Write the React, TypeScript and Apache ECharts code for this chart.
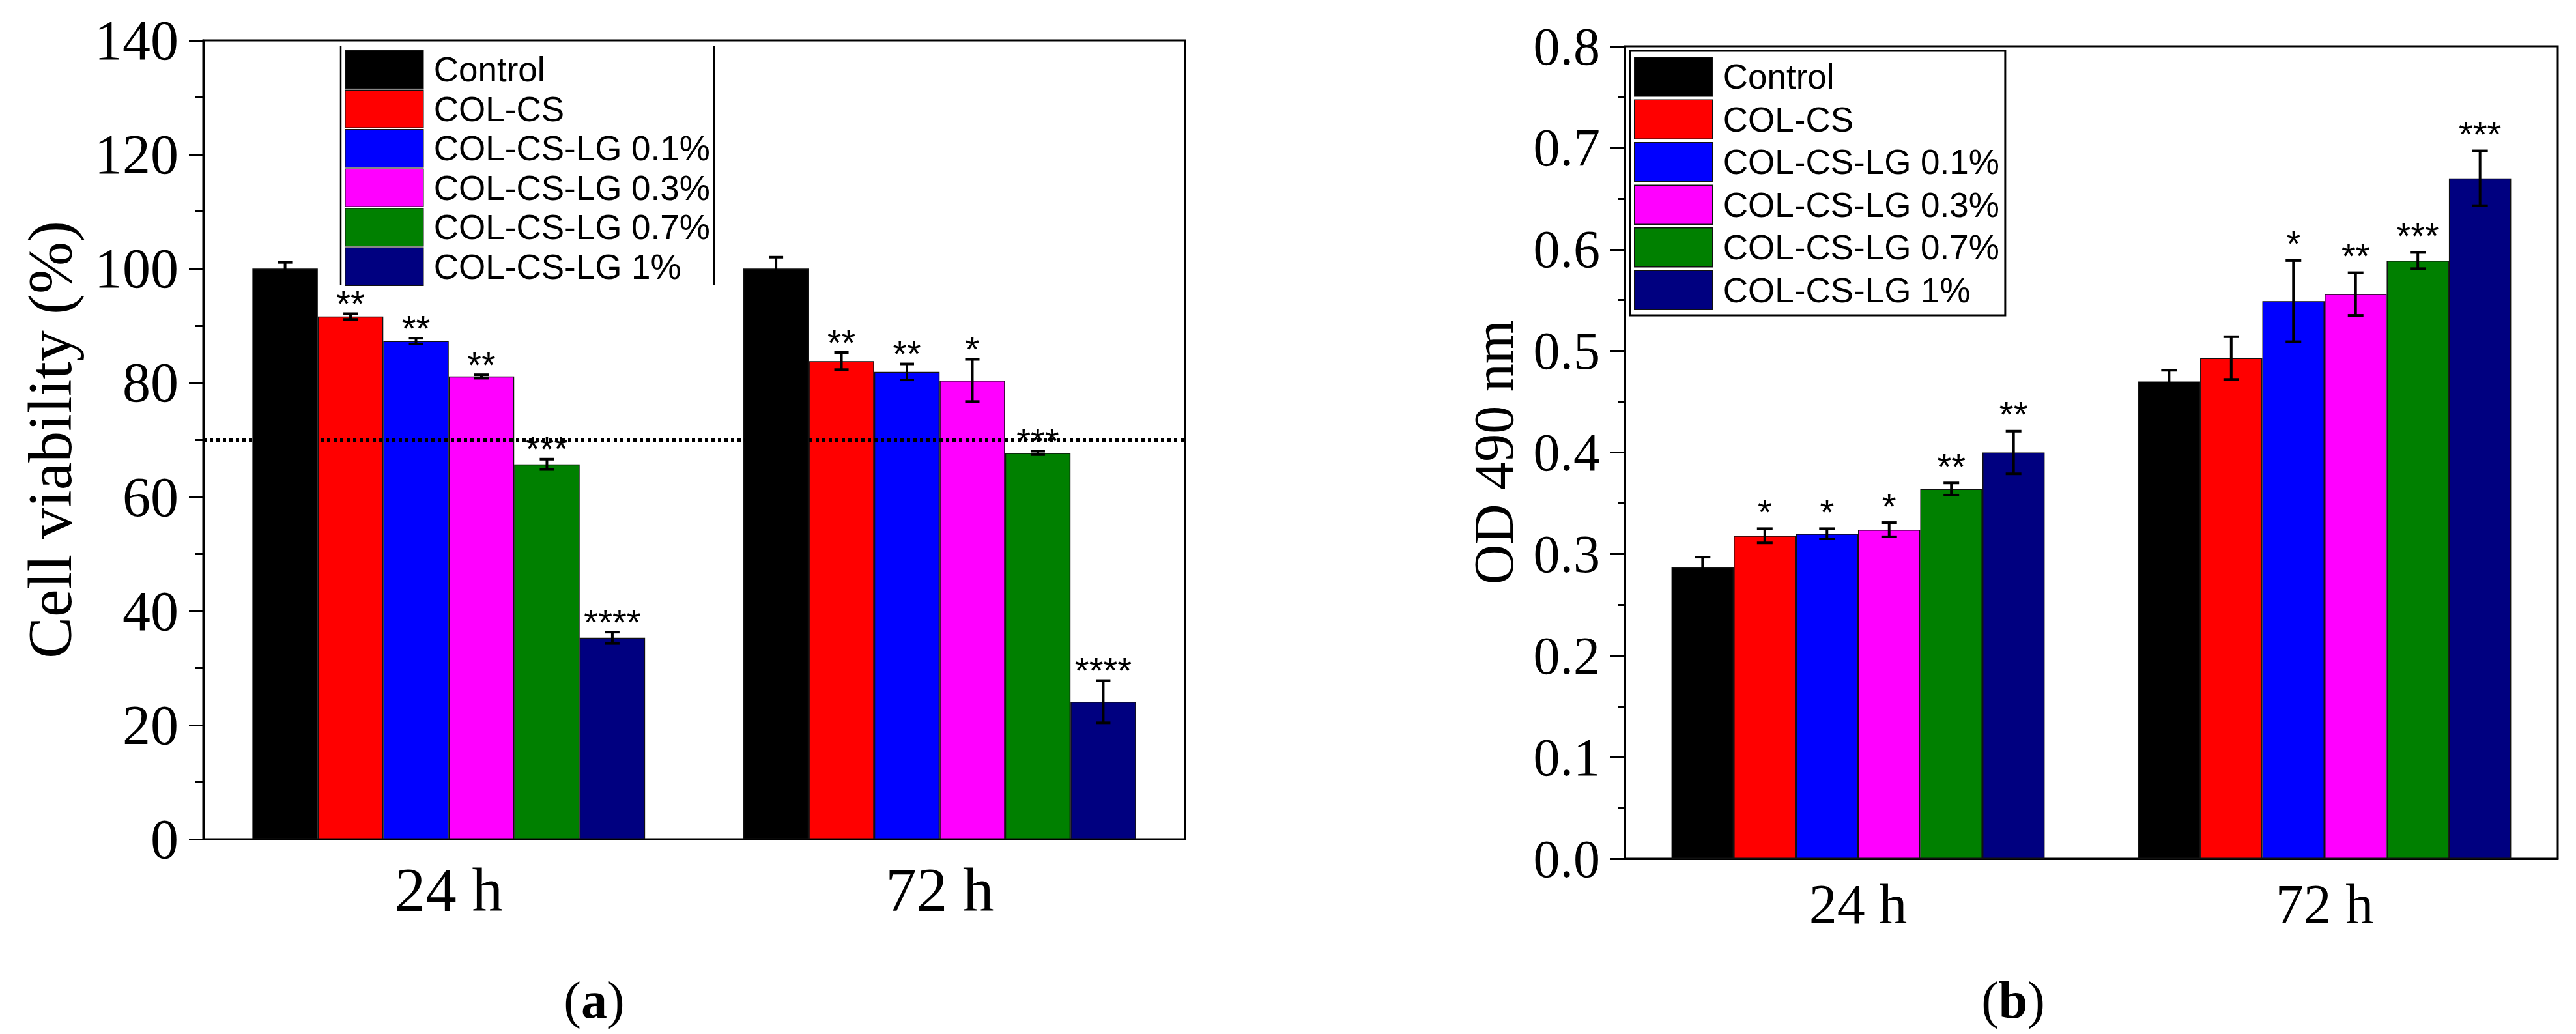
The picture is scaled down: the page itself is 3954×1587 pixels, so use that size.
import React, { useEffect, useRef } from "react";
import * as echarts from "echarts";

const timePoints = ["24 h", "72 h"];
const groups = [
  "Control",
  "COL-CS",
  "COL-CS-LG 0.1%",
  "COL-CS-LG 0.3%",
  "COL-CS-LG 0.7%",
  "COL-CS-LG 1%",
];
const groupColors = ["#000000", "#ff0000", "#0000ff", "#ff00ff", "#008000", "#000080"];

// (a) cell viability (%), each row = [24 h, 72 h]
const viabilityMean = [
  [100, 100],
  [91.6, 83.8],
  [87.3, 81.9],
  [81.1, 80.4],
  [65.7, 67.7],
  [35.3, 24.1],
];
const viabilityErr = [
  [1.1, 2.0],
  [0.5, 1.5],
  [0.5, 1.4],
  [0.3, 3.7],
  [0.9, 0.3],
  [1.0, 3.7],
];
const viabilityStars = [
  ["", ""],
  ["**", "**"],
  ["**", "**"],
  ["**", "*"],
  ["***", "***"],
  ["****", "****"],
];
const viabilityThreshold = 70;
const viabilityTicks = [0, 20, 40, 60, 80, 100, 120, 140];

// (b) OD 490 nm, each row = [24 h, 72 h]
const odMean = [
  [0.287, 0.47],
  [0.318, 0.493],
  [0.32, 0.549],
  [0.324, 0.556],
  [0.364, 0.589],
  [0.4, 0.67],
];
const odErr = [
  [0.01, 0.011],
  [0.007, 0.021],
  [0.005, 0.04],
  [0.007, 0.021],
  [0.006, 0.008],
  [0.021, 0.027],
];
const odStars = [
  ["", ""],
  ["*", ""],
  ["*", "*"],
  ["*", "**"],
  ["**", "***"],
  ["**", "***"],
];
const odTicks = [0, 0.1, 0.2, 0.3, 0.4, 0.5, 0.6, 0.7, 0.8];

const SERIF = "Liberation Serif";
const SANS = "Liberation Sans";
const GAP = 0.2;

function barSeries(axis: number, mean: number[][], extra?: any) {
  return groups.map((name, g) => ({
    name,
    type: "bar",
    xAxisIndex: axis,
    yAxisIndex: axis,
    data: mean[g],
    barGap: "0%",
    barCategoryGap: "20%",
    itemStyle: { color: groupColors[g], borderColor: "#111", borderWidth: 1.5 },
    ...(g === groups.length - 1 && extra ? extra : {}),
  }));
}

function errorSeries(axis: number, mean: number[][], err: number[][], stars: string[][], starGap: number, capW: number) {
  const data: number[][] = [];
  mean.forEach((row, g) => row.forEach((m, t) => data.push([t, g, m, err[g][t]])));
  return {
    type: "custom",
    xAxisIndex: axis,
    yAxisIndex: axis,
    encode: { x: 0, y: 2 },
    z: 5,
    silent: true,
    data,
    renderItem: (params: any, api: any) => {
      const t = api.value(0);
      const g = api.value(1);
      const m = api.value(2);
      const e = api.value(3);
      const band = api.size([1, 0])[0];
      const barW = (band * (1 - GAP)) / groups.length;
      const cx = api.coord([t, m])[0] - (band * (1 - GAP)) / 2 + (g + 0.5) * barW;
      const yTop = api.coord([t, m + e])[1];
      const yBot = api.coord([t, m - e])[1];
      const style = { stroke: "#000", lineWidth: 4 };
      return {
        type: "group",
        children: [
          { type: "line", shape: { x1: cx, y1: yTop, x2: cx, y2: yBot }, style },
          { type: "line", shape: { x1: cx - capW / 2, y1: yTop, x2: cx + capW / 2, y2: yTop }, style },
          { type: "line", shape: { x1: cx - capW / 2, y1: yBot, x2: cx + capW / 2, y2: yBot }, style },
          {
            type: "text",
            x: cx,
            y: yTop - starGap,
            style: {
              text: stars[g][t],
              fill: "#000",
              fontSize: 56,
              fontFamily: SANS,
              align: "center",
              verticalAlign: "middle",
            },
          },
        ],
      };
    },
  };
}

function valueAxis(grid: number, ticks: number[], fontSize: number, nameSize: number, nameGap: number, name: string, fmt: (v: number) => string, minorLen: number) {
  return {
    type: "value",
    gridIndex: grid,
    min: ticks[0],
    max: ticks[ticks.length - 1],
    interval: ticks[1] - ticks[0],
    name,
    nameLocation: "middle",
    nameGap,
    nameTextStyle: { fontFamily: SERIF, fontSize: nameSize, color: "#000" },
    axisLine: { show: true, lineStyle: { color: "#000", width: 3 } },
    axisTick: { show: true, length: 22, lineStyle: { color: "#000", width: 3 } },
    minorTick: { show: true, splitNumber: 2, length: minorLen, lineStyle: { color: "#000", width: 3 } },
    splitLine: { show: false },
    axisLabel: { fontFamily: SERIF, fontSize, color: "#000", margin: 38, formatter: fmt },
  };
}

function categoryAxis(grid: number, fontSize: number, margin: number) {
  return {
    type: "category",
    gridIndex: grid,
    data: timePoints,
    axisLine: { lineStyle: { color: "#000", width: 3 } },
    axisTick: { alignWithLabel: true, length: 24, lineStyle: { color: "#000", width: 3 } },
    axisLabel: { fontFamily: SERIF, fontSize, color: "#000", margin },
  };
}

function legend(left: number, top: number, itemHeight: number, itemGap: number, boxed: boolean) {
  return {
    left,
    top,
    orient: "vertical",
    icon: "rect",
    itemWidth: 120,
    itemHeight,
    itemGap,
    selectedMode: false,
    data: groups,
    padding: boxed ? [9, 9, 8, 6] : 0,
    borderColor: "#000",
    borderWidth: boxed ? 3 : 0,
    itemStyle: { borderColor: "#111", borderWidth: 1.5 },
    textStyle: { fontFamily: SANS, fontSize: 53, color: "#000", padding: [0, 0, 0, 11] },
  };
}

function panelLabel(x: number, letter: string) {
  return {
    type: "text",
    x,
    y: 1535,
    style: {
      text: "({b|" + letter + "})",
      fontFamily: SERIF,
      fontSize: 80,
      fill: "#000",
      align: "center",
      verticalAlign: "middle",
      rich: { b: { fontFamily: SERIF, fontSize: 80, fontWeight: "bold", fill: "#000" } },
    },
  };
}

export default function App() {
  const chartRef = useRef<HTMLDivElement>(null);

  useEffect(() => {
    if (!chartRef.current) return;
    const chart = echarts.init(chartRef.current, undefined, { renderer: "svg" });
    chart.setOption({
      animation: false,
      backgroundColor: "#fff",
      grid: [
        { left: 312, top: 62, width: 1507, height: 1226, show: true, borderColor: "#000", borderWidth: 3 },
        { left: 2494, top: 71, width: 1432, height: 1247, show: true, borderColor: "#000", borderWidth: 3 },
      ],
      xAxis: [categoryAxis(0, 95, 30), categoryAxis(1, 86, 27)],
      yAxis: [
        valueAxis(0, viabilityTicks, 86, 96, 188, "Cell viability (%)", (v) => String(v), 13),
        valueAxis(1, odTicks, 82, 86, 158, "OD 490 nm", (v) => v.toFixed(1), 11),
      ],
      legend: [legend(529, 77, 58, 1, false), legend(2502, 78, 60, 4, true)],
      series: [
        ...barSeries(0, viabilityMean, {
          markLine: {
            silent: true,
            symbol: "none",
            label: { show: false },
            lineStyle: { color: "#000", width: 5, type: [5, 5] },
            data: [{ yAxis: viabilityThreshold }],
          },
        }),
        ...barSeries(1, odMean),
        errorSeries(0, viabilityMean, viabilityErr, viabilityStars, 16, 22),
        errorSeries(1, odMean, odErr, odStars, 26, 24),
      ],
      graphic: [
        { type: "line", shape: { x1: 523, y1: 71, x2: 523, y2: 438 }, style: { stroke: "#000", lineWidth: 2.5 } },
        { type: "line", shape: { x1: 1096, y1: 71, x2: 1096, y2: 438 }, style: { stroke: "#000", lineWidth: 2.5 } },
        panelLabel(912, "a"),
        panelLabel(3090, "b"),
      ],
    });
    return () => chart.dispose();
  }, []);

  return (
    <div
      ref={chartRef}
      style={{ position: "fixed", left: 0, top: 0, width: "3954px", height: "1587px" }}
    />
  );
}
